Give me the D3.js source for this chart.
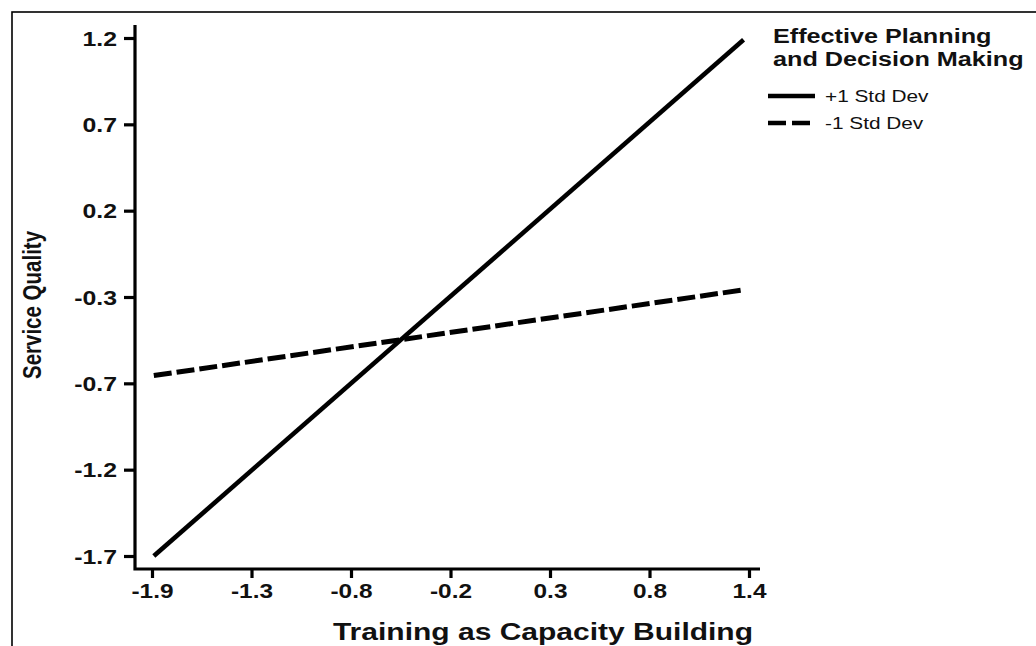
<!DOCTYPE html>
<html>
<head>
<meta charset="utf-8">
<script src="https://cdn.jsdelivr.net/npm/d3@7"></script>
<style>
  html, body { margin: 0; padding: 0; background: #fff; }
  svg { display: block; }
  text { font-family: "Liberation Sans", Arial, sans-serif; fill: #111; }
</style>
</head>
<body>
<svg id="chart" width="1036" height="646"></svg>
<script>
// ---- data ----
const xValues = [-1.89, 1.37];                 // Training as Capacity Building (ends of lines)
const plusSD = [-1.70, 1.19];                  // Service Quality at +1 Std Dev
const minusSD = [-0.69, -0.21];                // Service Quality at -1 Std Dev
const seriesNames = ["+1 Std Dev", "-1 Std Dev"];
const xTickLabels = ["-1.9", "-1.3", "-0.8", "-0.2", "0.3", "0.8", "1.4"];
const yTickLabels = ["1.2", "0.7", "0.2", "-0.3", "-0.7", "-1.2", "-1.7"];
const xDomain = [-1.9, 1.4];
const yDomain = [-1.7, 1.2];
const legendTitle = ["Effective Planning", "and Decision Making"];
const xTitle = "Training as Capacity Building";
const yTitle = "Service Quality";

// ---- layout ----
const svg = d3.select("#chart");
const STRETCH = 1.27;
const x = d3.scaleLinear().domain(xDomain).range([152, 749]);
const y = d3.scaleLinear().domain(yDomain).range([556, 38]);
const axisX0 = 135, axisY0 = 569;

function stretch(sel, k) {
  sel.each(function () {
    const w = this.getComputedTextLength();
    this.setAttribute("textLength", w * k);
    this.setAttribute("lengthAdjust", "spacingAndGlyphs");
  });
}

// border
svg.append("rect").attr("x", 12).attr("y", 12).attr("width", 1100).attr("height", 700)
  .attr("fill", "none").attr("stroke", "#000").attr("stroke-width", 1.6);

// tick values evenly spaced over domain
const xTicks = d3.range(xTickLabels.length).map(i => xDomain[0] + i * (xDomain[1] - xDomain[0]) / (xTickLabels.length - 1));
const yTicks = d3.range(yTickLabels.length).map(i => yDomain[1] - i * (yDomain[1] - yDomain[0]) / (yTickLabels.length - 1));

// y axis
const gy = svg.append("g").attr("transform", `translate(${axisX0},0)`)
  .call(d3.axisLeft(y).tickValues(yTicks).tickFormat((d, i) => yTickLabels[i]).tickSize(11).tickPadding(7));
gy.select(".domain").remove();
gy.selectAll(".tick line").attr("stroke", "#000").attr("stroke-width", 3.2);
gy.selectAll(".tick text").attr("font-size", 20).attr("font-weight", "bold")
  .attr("font-family", "'Liberation Sans', Arial, sans-serif").attr("fill", "#111").attr("dy", "0.36em");
stretch(gy.selectAll(".tick text"), 1.24);

// x axis
const gx = svg.append("g").attr("transform", `translate(0,${axisY0})`)
  .call(d3.axisBottom(x).tickValues(xTicks).tickFormat((d, i) => xTickLabels[i]).tickSize(9).tickPadding(6));
gx.select(".domain").remove();
gx.selectAll(".tick line").attr("stroke", "#000").attr("stroke-width", 3.2);
gx.selectAll(".tick text").attr("font-size", 20).attr("font-weight", "bold")
  .attr("font-family", "'Liberation Sans', Arial, sans-serif").attr("fill", "#111").attr("dy", "0.71em");
stretch(gx.selectAll(".tick text"), 1.22);

// axis lines
svg.append("path").attr("d", `M${axisX0},25 V${axisY0} H760`)
  .attr("fill", "none").attr("stroke", "#000").attr("stroke-width", 3.2).attr("stroke-linejoin", "miter");

// lines
const line = d3.line().x(d => x(d[0])).y(d => y(d[1]));
svg.append("path").datum(xValues.map((v, i) => [v, minusSD[i]])).attr("d", line)
  .attr("fill", "none").attr("stroke", "#000").attr("stroke-width", 5).attr("stroke-dasharray", "18,5");
svg.append("path").datum(xValues.map((v, i) => [v, plusSD[i]])).attr("d", line)
  .attr("fill", "none").attr("stroke", "#000").attr("stroke-width", 4.6);

// axis titles
const xt = svg.append("text").attr("x", 543).attr("y", 640).attr("text-anchor", "middle")
  .attr("font-size", 24).attr("font-weight", "bold").text(xTitle);
stretch(xt, 1.25);
svg.append("text").attr("transform", "translate(41,305) rotate(-90) scale(1,1.3)").attr("text-anchor", "middle")
  .attr("font-size", 20.5).attr("font-weight", "bold").text(yTitle);

// legend
const lg = svg.append("g");
legendTitle.forEach((t, i) => {
  const tt = lg.append("text").attr("x", 773).attr("y", 43 + i * 23).attr("font-size", 20)
    .attr("font-weight", "bold").text(t);
  stretch(tt, 1.26);
});
seriesNames.forEach((name, i) => {
  const yy = 96 + i * 27;
  lg.append("line").attr("x1", 768).attr("x2", 815).attr("y1", yy).attr("y2", yy)
    .attr("stroke", "#000").attr("stroke-width", 4.5)
    .attr("stroke-dasharray", i === 1 ? "18,6" : null);
  const tt = lg.append("text").attr("x", 825).attr("y", yy + 5.5).attr("font-size", 16).text(name);
  stretch(tt, 1.3);
});
</script>
</body>
</html>
